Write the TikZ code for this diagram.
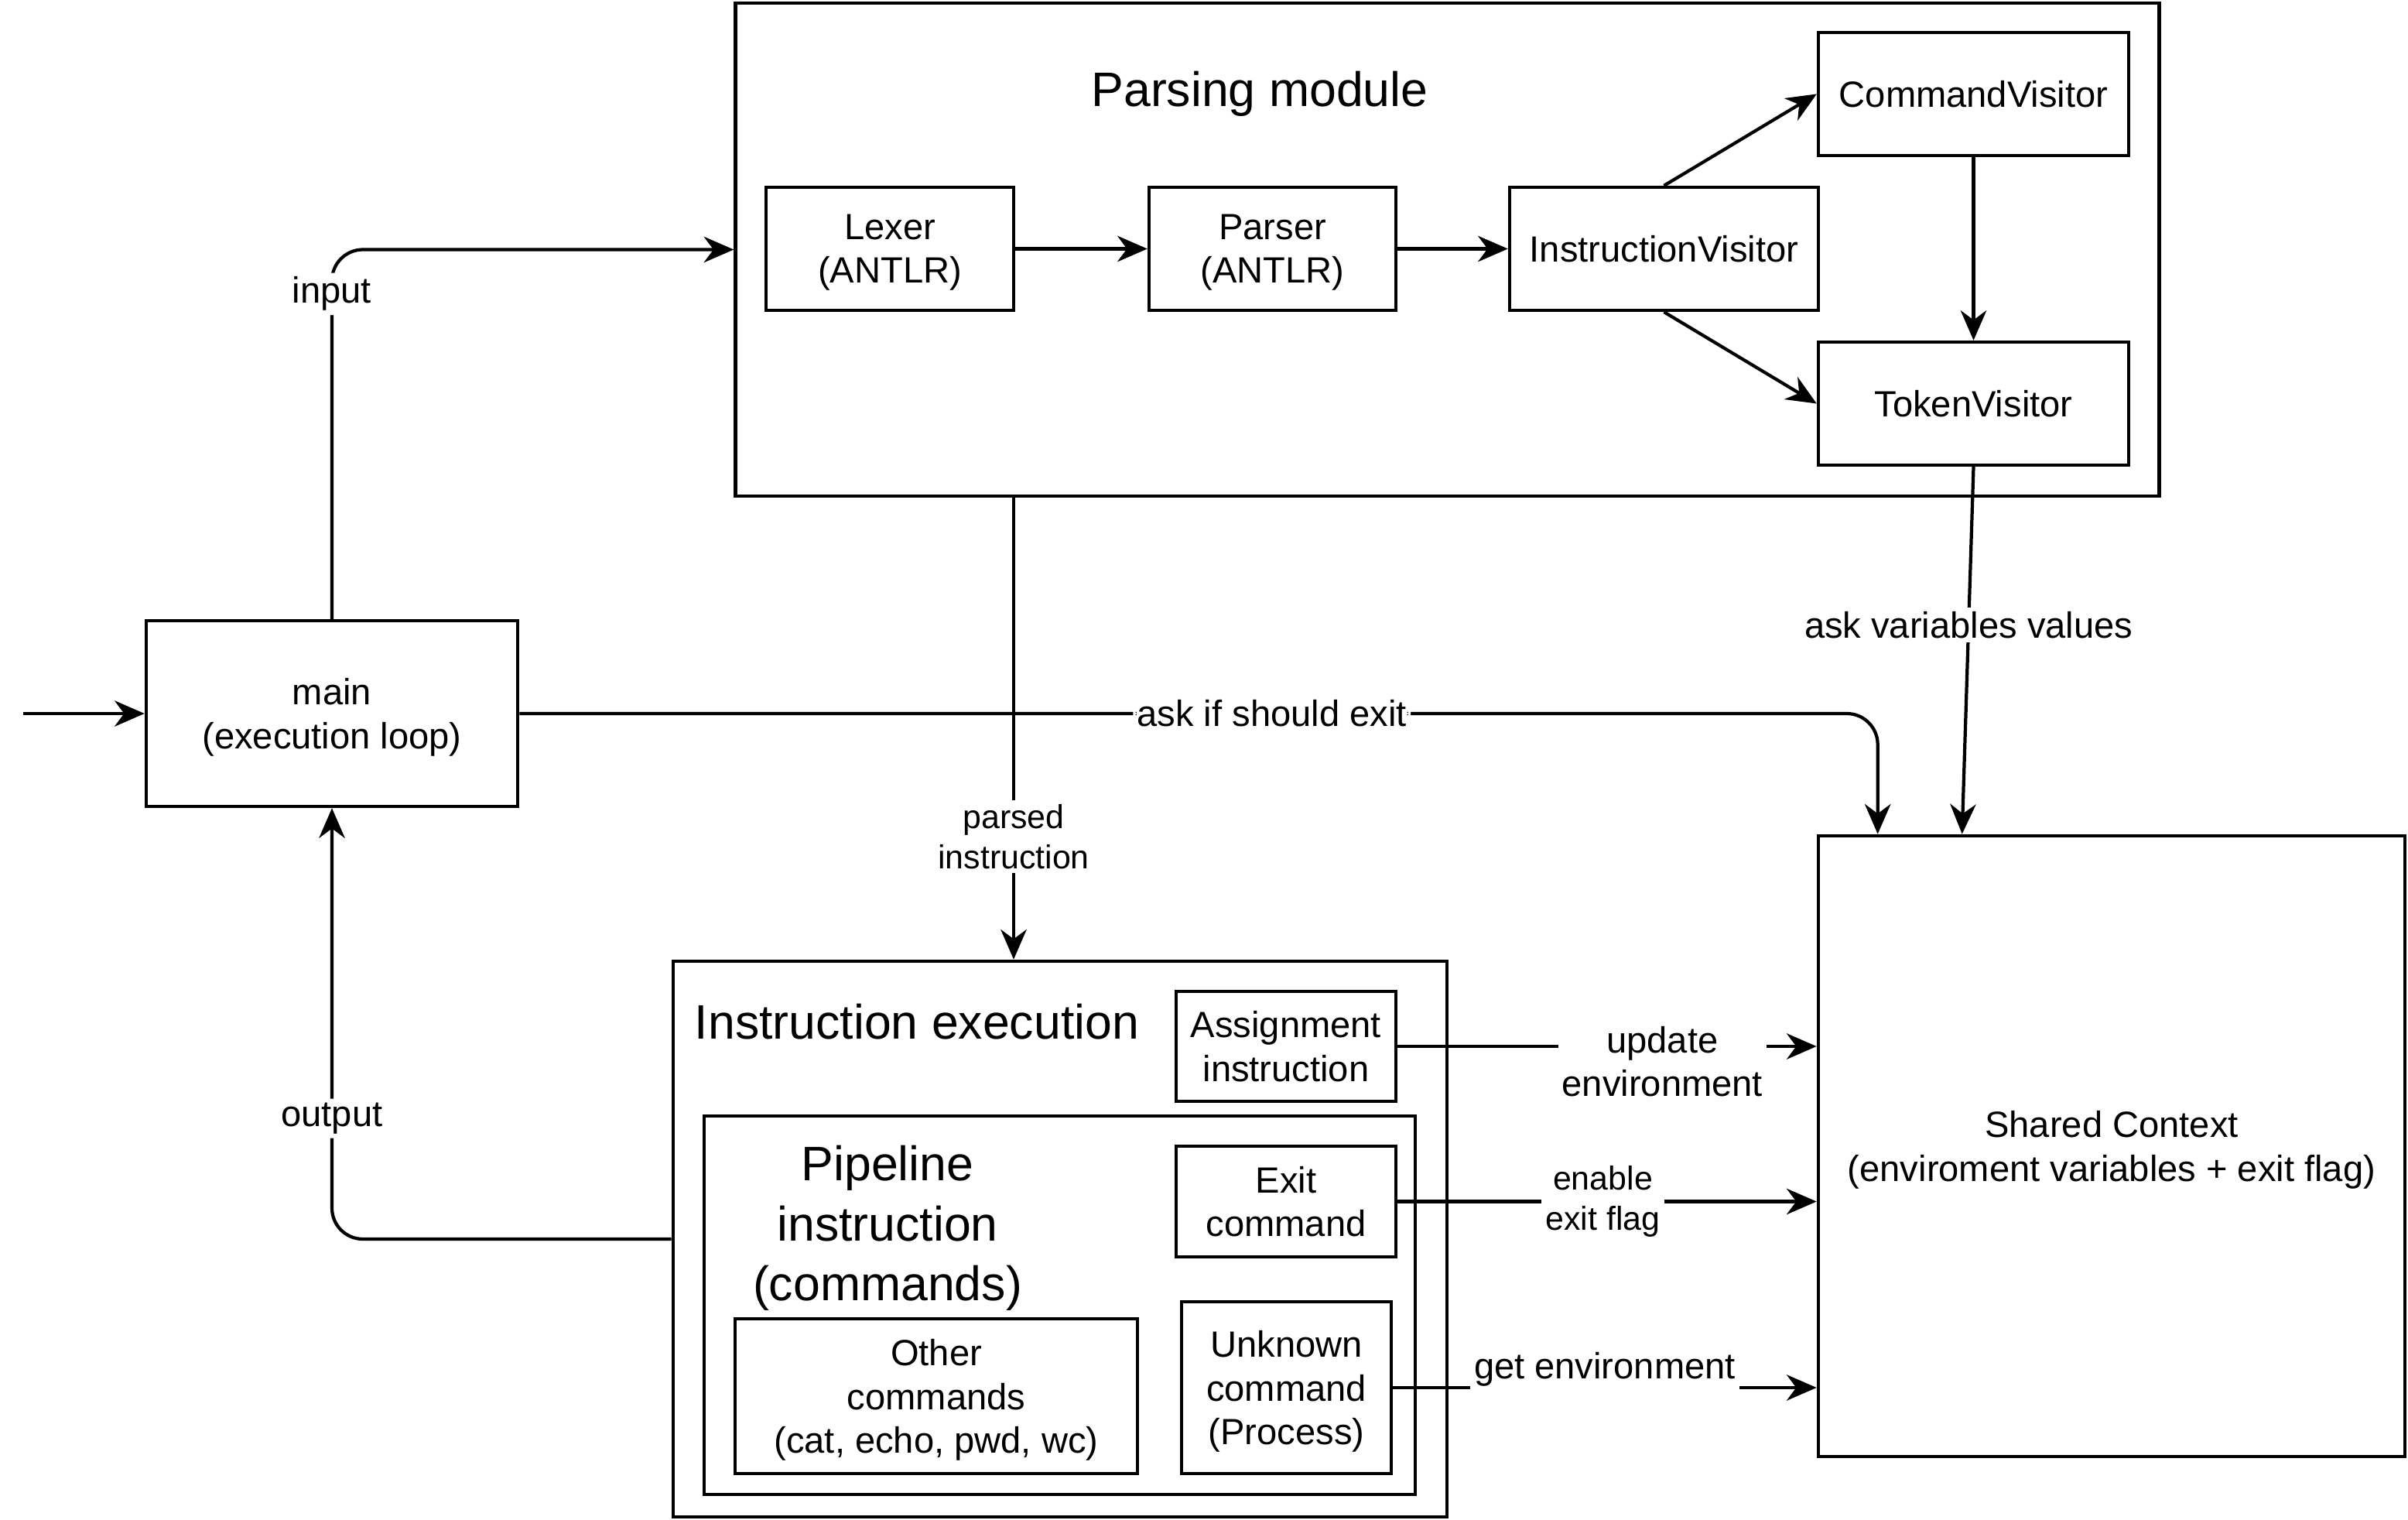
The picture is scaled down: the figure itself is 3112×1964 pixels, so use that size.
\documentclass[tikz,border=0pt]{standalone}
\usepackage{fontspec}
\setmainfont{Liberation Sans}
\usetikzlibrary{arrows.meta,calc}
\begin{document}
\begin{tikzpicture}[x=0.01cm,y=-0.01cm,
  every node/.style={font=\fontsize{13.4}{16}\selectfont},
  box/.style={draw, line width=1.2pt, inner sep=0pt, align=center},
  mbox/.style={box, text depth=0pt},
  arr/.style={draw, line width=1.2pt, -{Stealth[length=11pt,width=9.5pt,inset=3.5pt]}},
  lbl/.style={fill=white, inner sep=1.5pt, align=center},
  small/.style={font=\fontsize{12.2}{14.7}\selectfont},
  titletext/.style={font=\fontsize{17.8}{22}\selectfont, align=center, inner sep=0pt}]
\useasboundingbox (0,0) rectangle (3112,1964);

% boxes
\node[mbox, minimum width=4.8cm, minimum height=2.4cm] (main) at (429,922) {main\\(execution loop)};
\node[box, minimum width=18.39cm, minimum height=6.37cm] (parsing) at (1870.5,322.5) {};
\node[titletext] (ptitle) at (1628,121) {Parsing module};
\node[mbox, minimum width=3.2cm, minimum height=1.59cm] (lexer) at (1150,321.5) {Lexer\\(ANTLR)};
\node[mbox, minimum width=3.19cm, minimum height=1.59cm] (parser) at (1644.5,321.5) {Parser\\(ANTLR)};
\node[box, minimum width=3.99cm, minimum height=1.59cm] (iv) at (2150.5,321.5) {InstructionVisitor};
\node[box, minimum width=4.01cm, minimum height=1.59cm] (cv) at (2550.5,121.5) {CommandVisitor};
\node[box, minimum width=4.01cm, minimum height=1.59cm] (tv) at (2550.5,521.5) {TokenVisitor};
\node[mbox, minimum width=7.58cm, minimum height=8.02cm] (shared) at (2729,1481) {Shared Context\\(enviroment variables + exit flag)};

\node[box, minimum width=10cm, minimum height=7.18cm] (exec) at (1370,1601) {};
\node[titletext] (etitle) at (1185,1320) {Instruction execution};
\node[mbox, minimum width=2.84cm, minimum height=1.42cm] (assign) at (1662,1352) {Assignment\\instruction};
\node[box, minimum width=9.19cm, minimum height=4.89cm] (pipe) at (1369.5,1686.5) {};
\node[titletext] (pipetitle) at (1147,1587) {Pipeline\\instruction\\(commands)};
\node[mbox, minimum width=2.84cm, minimum height=1.43cm] (exitc) at (1662,1552.5) {Exit\\command};
\node[mbox, minimum width=5.2cm, minimum height=2cm] (other) at (1210,1804) {Other\\commands\\(cat, echo, pwd, wc)};
\node[mbox, minimum width=2.71cm, minimum height=2.22cm] (unknown) at (1662.5,1793) {Unknown\\command\\(Process)};

% connectors
\coordinate (start) at (30,922);
\draw[arr] (start) -- (main.west);
\draw[arr, rounded corners=0.4cm] (main.north) |- node[pos=0.44, lbl] (inlbl) {input} (parsing.west);
\draw[arr, rounded corners=0.4cm] (exec.west) -| node[pos=0.64, lbl] (outlbl) {output} (main.south);
\coordinate (exitend) at ($(shared.north west)+(79,0)$);
\draw[arr, rounded corners=0.4cm] (main.east) -| node[pos=0.277, lbl] (exitlbl) {ask if should exit} (exitend);
\coordinate (p1) at (1310,641);
\draw[arr] (p1) -- node[pos=0.735, lbl, small] (parsedlbl) {parsed\\instruction} (p1 |- exec.north);
\coordinate (varend) at ($(shared.north west)+(188,0)$);
\draw[arr] (tv.south) -- node[pos=0.43, lbl] (varlbl) {ask variables values} (varend);

\draw[arr] (lexer) -- (parser);
\draw[arr] (parser) -- (iv);
\draw[arr] (iv.north) -- (cv.west);
\draw[arr] (iv.south) -- (tv.west);
\draw[arr] (cv.south) -- (tv.north);

\draw[arr] (assign.east) -- node[pos=0.632, yshift=-0.2cm, lbl] (updlbl) {update\\environment} (assign.east -| shared.west);
\draw[arr] (exitc.east) -- node[pos=0.49, lbl, small] (enlbl) {enable\\exit flag} (exitc.east -| shared.west);
\draw[arr] (unknown.east) -- node[pos=0.5, yshift=0.24cm, lbl] (getlbl) {get environment} (unknown.east -| shared.west);
\end{tikzpicture}
\end{document}
